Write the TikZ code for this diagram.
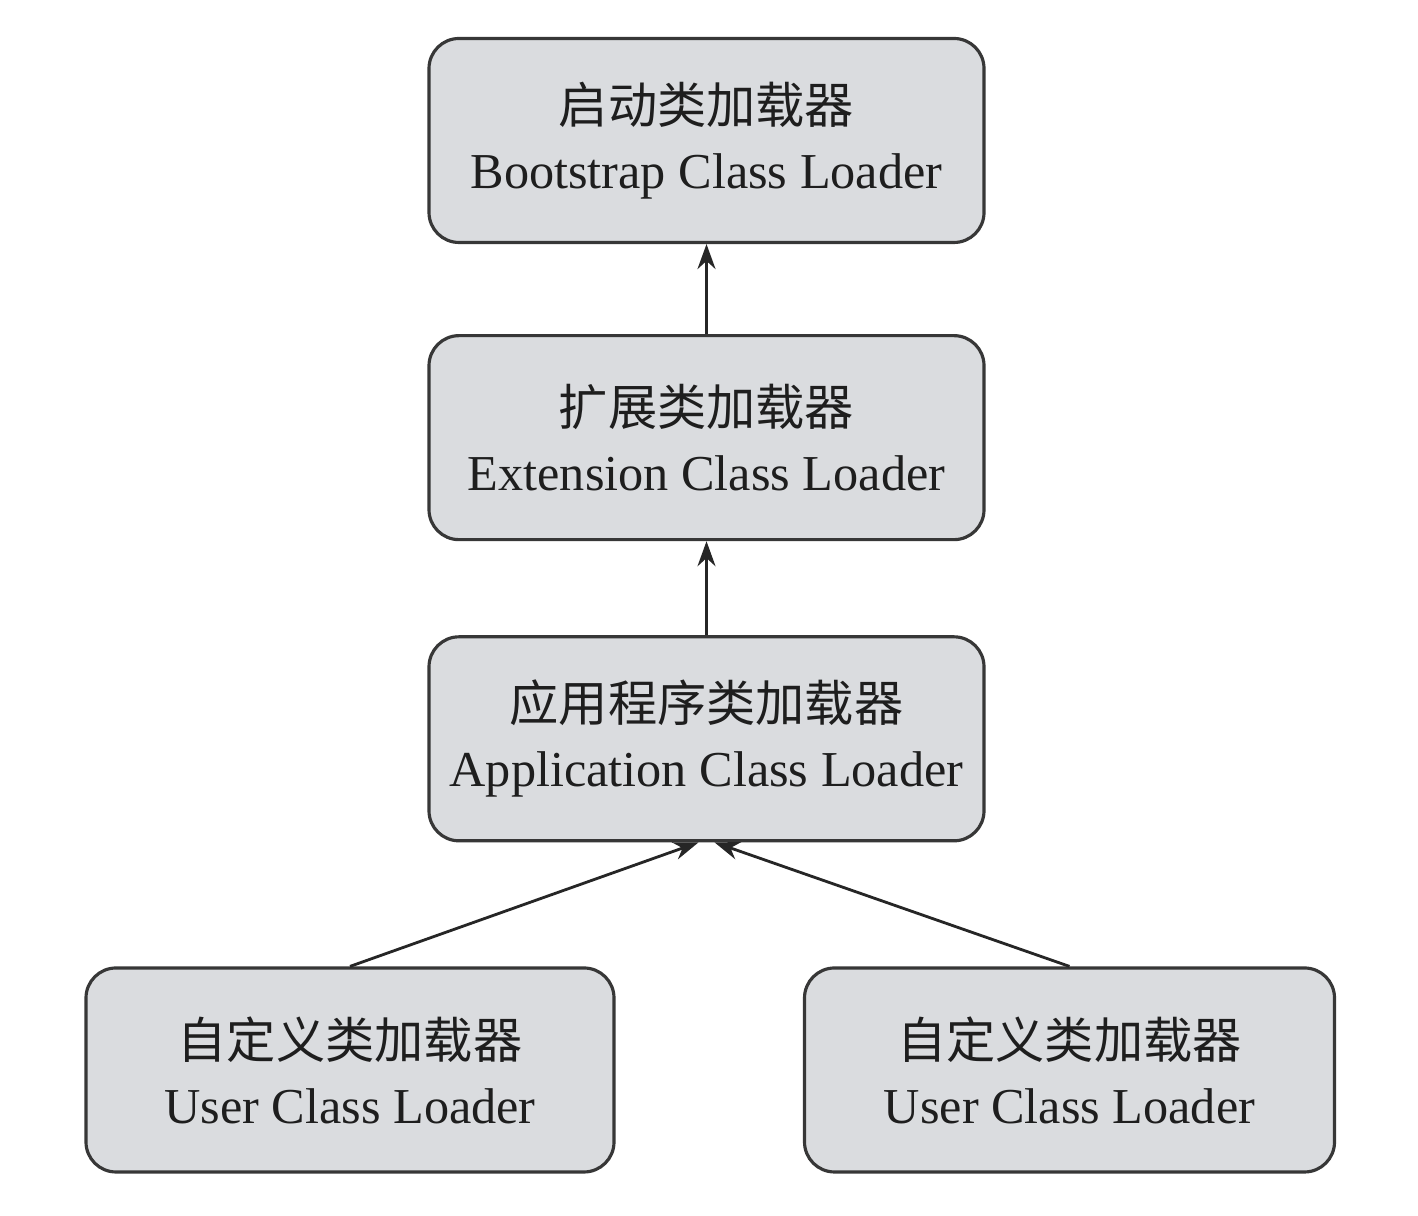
\documentclass[tikz,border=0pt]{standalone}
\usepackage{fontspec}
\setmainfont{Liberation Serif}
\newfontfamily\cjk{Noto Sans CJK SC}
\usepackage{tikz}
\usetikzlibrary{arrows.meta,positioning}
\usepackage{xcolor}
\definecolor{boxgray}{RGB}{218,220,223}
\definecolor{edgegray}{RGB}{55,55,55}
\definecolor{textdark}{RGB}{30,30,30}

\begin{document}
\begin{tikzpicture}[
  ldr/.style={rectangle,rounded corners=0.3cm,draw=edgegray,fill=boxgray,line width=0.9pt,
              minimum width=5.55cm,minimum height=2.04cm,
              font=\fontsize{14.3}{18.5}\selectfont,text=textdark,align=center},
  arr/.style={-{Stealth[length=0.25cm,width=0.18cm]},line width=0.8pt,draw=black!85},
]
\useasboundingbox (0,0) rectangle (14.18,12.16);

\node[ldr] (boot) at (7.065,10.755) {{\cjk\fontsize{14}{18.5}\selectfont 启动类加载器}\\Bootstrap Class Loader};
\node[ldr,below=0.9cm of boot] (ext) {{\cjk\fontsize{14}{18.5}\selectfont 扩展类加载器}\\Extension Class Loader};
\node[ldr,below=0.94cm of ext] (app) {{\cjk\fontsize{14}{18.5}\selectfont 应用程序类加载器}\\Application Class Loader};
\node[ldr,minimum width=5.28cm,below=1.24cm of app,xshift=-3.565cm] (usr1) {{\cjk\fontsize{14}{18.5}\selectfont 自定义类加载器}\\User Class Loader};
\node[ldr,minimum width=5.3cm,below=1.24cm of app,xshift=3.63cm] (usr2) {{\cjk\fontsize{14}{18.5}\selectfont 自定义类加载器}\\User Class Loader};

\draw[arr] (ext) -- (boot);
\draw[arr] (app) -- (ext);
\draw[arr] (usr1.north) -- ([xshift=-0.08cm]app.south);
\draw[arr] (usr2.north) -- ([xshift=0.08cm]app.south);
\end{tikzpicture}
\end{document}
